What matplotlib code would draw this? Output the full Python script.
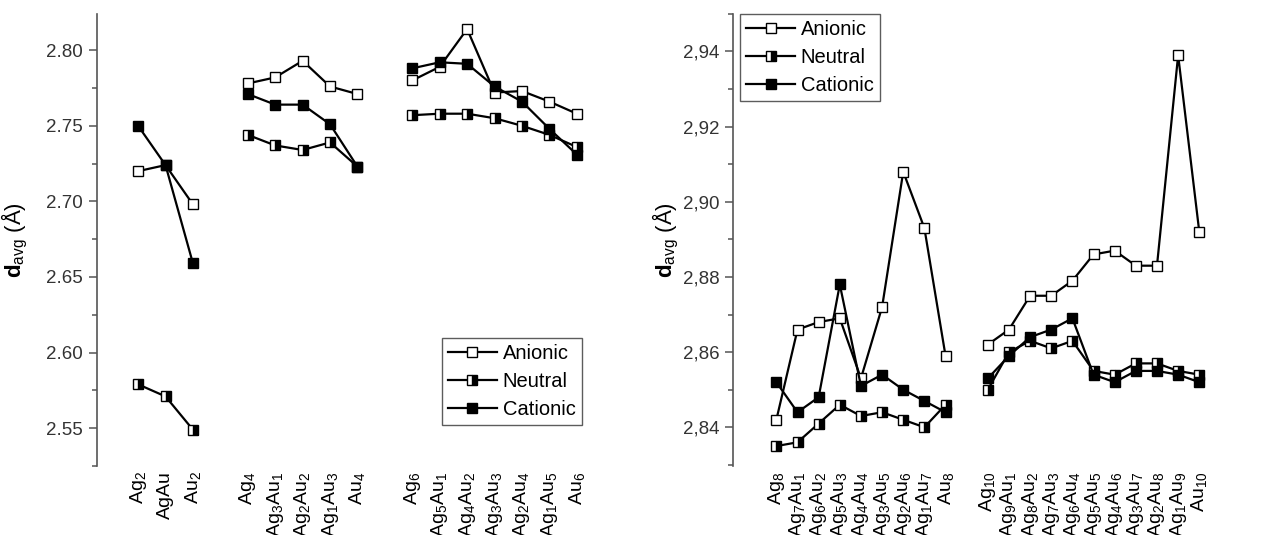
#!/usr/bin/env python3
"""Average bond distance of Ag/Au clusters for anionic, neutral and cationic states."""

import matplotlib

matplotlib.use("Agg")
import matplotlib.pyplot as plt
from matplotlib.ticker import FuncFormatter, MultipleLocator

plt.rcParams["font.family"] = ["Liberation Sans", "DejaVu Sans"]
plt.rcParams["mathtext.fontset"] = "custom"
plt.rcParams["mathtext.rm"] = "Liberation Sans"
plt.rcParams["mathtext.it"] = "Liberation Sans"
plt.rcParams["mathtext.bf"] = "Liberation Sans:bold"

# ---- small clusters (n = 2, 4, 6) ----
small_pos = [0, 1, 2, 4, 5, 6, 7, 8, 10, 11, 12, 13, 14, 15, 16]
small_labels = [
    r"Ag$_2$", "AgAu", r"Au$_2$",
    r"Ag$_4$", r"Ag$_3$Au$_1$", r"Ag$_2$Au$_2$", r"Ag$_1$Au$_3$", r"Au$_4$",
    r"Ag$_6$", r"Ag$_5$Au$_1$", r"Ag$_4$Au$_2$", r"Ag$_3$Au$_3$", r"Ag$_2$Au$_4$",
    r"Ag$_1$Au$_5$", r"Au$_6$",
]
small_groups = [(0, 3), (3, 8), (8, 15)]
small_anionic = [2.720, 2.724, 2.698,
                 2.778, 2.782, 2.793, 2.776, 2.771,
                 2.780, 2.789, 2.814, 2.772, 2.773, 2.766, 2.758]
small_neutral = [2.579, 2.571, 2.549,
                 2.744, 2.737, 2.734, 2.739, 2.723,
                 2.757, 2.758, 2.758, 2.755, 2.750, 2.744, 2.736]
small_cationic = [2.750, 2.724, 2.659,
                  2.771, 2.764, 2.764, 2.751, 2.723,
                  2.788, 2.792, 2.791, 2.776, 2.766, 2.748, 2.731]

# ---- large clusters (n = 8, 10) ----
large_pos = list(range(0, 9)) + list(range(10, 21))
large_labels = [
    r"Ag$_8$", r"Ag$_7$Au$_1$", r"Ag$_6$Au$_2$", r"Ag$_5$Au$_3$", r"Ag$_4$Au$_4$",
    r"Ag$_3$Au$_5$", r"Ag$_2$Au$_6$", r"Ag$_1$Au$_7$", r"Au$_8$",
    r"Ag$_{10}$", r"Ag$_9$Au$_1$", r"Ag$_8$Au$_2$", r"Ag$_7$Au$_3$", r"Ag$_6$Au$_4$",
    r"Ag$_5$Au$_5$", r"Ag$_4$Au$_6$", r"Ag$_3$Au$_7$", r"Ag$_2$Au$_8$", r"Ag$_1$Au$_9$",
    r"Au$_{10}$",
]
large_groups = [(0, 9), (9, 20)]
large_anionic = [2.842, 2.866, 2.868, 2.869, 2.853, 2.872, 2.908, 2.893, 2.859,
                 2.862, 2.866, 2.875, 2.875, 2.879, 2.886, 2.887, 2.883, 2.883, 2.939, 2.892]
large_neutral = [2.835, 2.836, 2.841, 2.846, 2.843, 2.844, 2.842, 2.840, 2.846,
                 2.850, 2.860, 2.863, 2.861, 2.863, 2.855, 2.854, 2.857, 2.857, 2.855, 2.854]
large_cationic = [2.852, 2.844, 2.848, 2.878, 2.851, 2.854, 2.850, 2.847, 2.844,
                  2.853, 2.859, 2.864, 2.866, 2.869, 2.854, 2.852, 2.855, 2.855, 2.854, 2.852]

SERIES = [
    ("Anionic", dict(markerfacecolor="white", fillstyle="full")),
    ("Neutral", dict(markerfacecolor="black", fillstyle="right", markerfacecoloralt="white")),
    ("Cationic", dict(markerfacecolor="black", fillstyle="full")),
]
AXIS_COLOR = "#555555"
TICK_TEXT = "#333333"
YLABEL = r"$\mathbf{d}_{\mathregular{avg}}$ (Å)"


def draw_panel(ax, pos, groups, series_values):
    for (name, style), values in zip(SERIES, series_values):
        for k, (a, b) in enumerate(groups):
            ax.plot(
                pos[a:b], values[a:b],
                color="black", linewidth=1.6,
                marker="s", markersize=7, markeredgecolor="black",
                markeredgewidth=1.0, markerfacecolor=style["markerfacecolor"],
                fillstyle=style["fillstyle"],
                markerfacecoloralt=style.get("markerfacecoloralt", "white"),
                label=name if k == 0 else None,
            )


def style_axis(ax, pos, labels):
    for side in ("top", "right", "bottom"):
        ax.spines[side].set_visible(False)
    ax.spines["left"].set_color(AXIS_COLOR)
    ax.spines["left"].set_linewidth(1.2)
    ax.set_xticks(pos, labels, rotation=90, fontsize=14)
    ax.tick_params(axis="x", length=0, pad=4)
    ax.tick_params(axis="y", which="major", direction="out", length=6, width=1.1,
                   color=AXIS_COLOR, labelsize=13.5, labelcolor=TICK_TEXT, pad=4)
    ax.tick_params(axis="y", which="minor", direction="out", length=3.5, width=1.1,
                   color=AXIS_COLOR)


def add_legend(ax, **kw):
    leg = ax.legend(fontsize=14.5, frameon=True, fancybox=False, handlelength=2.4,
                    handletextpad=0.3, borderpad=0.3, labelspacing=0.45,
                    borderaxespad=0, **kw)
    leg.get_frame().set_edgecolor("#333333")
    leg.get_frame().set_linewidth(1.0)
    return leg


fig = plt.figure(figsize=(12.66, 5.35), dpi=100)

ax1 = fig.add_axes([0.0766, 0.129, 0.405, 0.845])
draw_panel(ax1, small_pos, small_groups, [small_anionic, small_neutral, small_cationic])
style_axis(ax1, small_pos, small_labels)
ax1.set_xlim(-1.5, 17.2)
ax1.set_ylim(2.525, 2.824)
ax1.yaxis.set_major_locator(MultipleLocator(0.05))
ax1.yaxis.set_minor_locator(MultipleLocator(0.025))
ax1.yaxis.set_major_formatter(FuncFormatter(lambda v, _: f"{v:.2f}"))
ax1.set_ylabel(YLABEL, fontsize=16)
ax1.yaxis.set_label_coords(-0.13, 0.5)
add_legend(ax1, loc="lower right", bbox_to_anchor=(0.945, 0.09))

ax2 = fig.add_axes([0.579, 0.129, 0.385, 0.845])
draw_panel(ax2, large_pos, large_groups, [large_anionic, large_neutral, large_cationic])
style_axis(ax2, large_pos, large_labels)
ax2.set_xlim(-2.05, 21.0)
ax2.set_ylim(2.8297, 2.950)
ax2.yaxis.set_major_locator(MultipleLocator(0.02))
ax2.yaxis.set_minor_locator(MultipleLocator(0.01))
ax2.yaxis.set_major_formatter(FuncFormatter(lambda v, _: f"{v:.2f}".replace(".", ",")))
ax2.set_ylabel(YLABEL, fontsize=16)
ax2.yaxis.set_label_coords(-0.107, 0.5)
add_legend(ax2, loc="upper left", bbox_to_anchor=(0.015, 1.0))

fig.savefig("out.png", dpi=100)
